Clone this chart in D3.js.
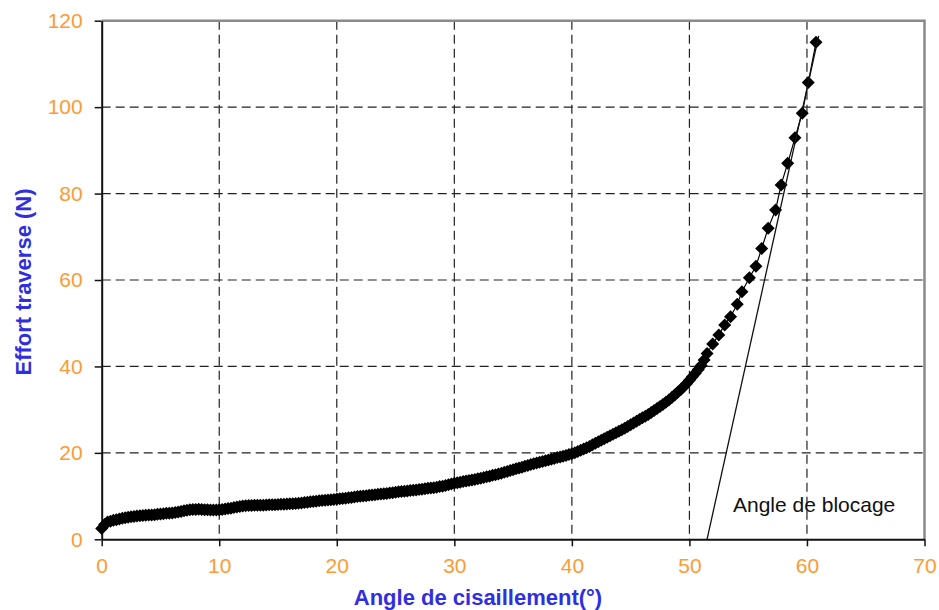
<!DOCTYPE html>
<html><head><meta charset="utf-8">
<script src="https://cdn.jsdelivr.net/npm/d3@7"></script>
<style>body{margin:0;background:#fff}svg{display:block}text{font-family:"Liberation Sans",Arial,sans-serif}</style>
</head><body><svg id="c" width="939" height="610"></svg>
<script>
// Measured curve: shear angle (°) vs transverse force (N)
const angle = [0,0.25,0.5,0.75,1,1.25,1.5,1.75,2,2.25,2.5,2.75,3,3.25,3.5,3.75,4,4.25,4.5,4.75,5,5.25,5.5,5.75,6,6.25,6.5,6.75,7,7.25,7.5,7.75,8,8.25,8.5,8.75,9,9.25,9.5,9.75,10,10.25,10.5,10.75,11,11.25,11.5,11.75,12,12.25,12.5,12.75,13,13.25,13.5,13.75,14,14.25,14.5,14.75,15,15.25,15.5,15.75,16,16.25,16.5,16.75,17,17.25,17.5,17.75,18,18.25,18.5,18.75,19,19.25,19.5,19.75,20,20.25,20.5,20.75,21,21.25,21.5,21.75,22,22.25,22.5,22.75,23,23.25,23.5,23.75,24,24.25,24.5,24.75,25,25.25,25.5,25.75,26,26.25,26.5,26.75,27,27.25,27.5,27.75,28,28.25,28.5,28.75,29,29.25,29.5,29.75,30,30.25,30.5,30.75,31,31.25,31.5,31.75,32,32.25,32.5,32.75,33,33.25,33.5,33.75,34,34.25,34.5,34.75,35,35.25,35.5,35.75,36,36.25,36.5,36.75,37,37.25,37.5,37.75,38,38.25,38.5,38.75,39,39.25,39.5,39.75,40,40.25,40.5,40.75,41,41.25,41.5,41.75,42,42.25,42.5,42.75,43,43.25,43.5,43.75,44,44.25,44.5,44.75,45,45.25,45.5,45.75,46,46.25,46.5,46.75,47,47.25,47.5,47.75,48,48.25,48.5,48.75,49,49.25,49.5,49.75,50,50.25,50.5,50.75,51,51.25,51.5,51.98,52.5,53.0,53.5,54.07,54.47,55.1,55.66,56.15,56.7,57.33,57.8,58.36,58.98,59.6,60.11,60.77];
const force = [2.5,3.4,4.0,4.2,4.4,4.55,4.7,4.85,5.0,5.1,5.2,5.3,5.4,5.45,5.5,5.55,5.6,5.65,5.7,5.8,5.85,5.9,6.0,6.05,6.1,6.2,6.3,6.45,6.6,6.75,6.85,6.9,6.9,6.95,6.9,6.85,6.85,6.8,6.8,6.8,6.85,6.9,7.0,7.1,7.2,7.35,7.5,7.6,7.7,7.75,7.8,7.8,7.85,7.85,7.9,7.9,7.95,8.0,8.0,8.0,8.05,8.1,8.1,8.15,8.2,8.25,8.3,8.35,8.4,8.5,8.6,8.7,8.75,8.8,8.9,9.0,9.05,9.1,9.15,9.2,9.3,9.4,9.45,9.5,9.6,9.7,9.8,9.9,9.95,10.0,10.1,10.2,10.25,10.3,10.4,10.5,10.55,10.6,10.7,10.8,10.9,11.0,11.05,11.1,11.2,11.3,11.35,11.4,11.5,11.6,11.7,11.8,11.85,11.95,12.05,12.2,12.3,12.45,12.6,12.8,12.95,13.1,13.2,13.35,13.5,13.6,13.75,13.85,14.0,14.15,14.3,14.45,14.6,14.8,14.95,15.1,15.3,15.5,15.7,15.9,16.1,16.3,16.5,16.7,16.9,17.1,17.3,17.5,17.65,17.8,18.0,18.2,18.35,18.5,18.7,18.9,19.05,19.2,19.4,19.6,19.8,20.05,20.3,20.6,20.9,21.2,21.5,21.85,22.2,22.55,22.9,23.25,23.6,23.95,24.3,24.65,25.0,25.35,25.7,26.1,26.5,26.9,27.3,27.7,28.1,28.5,28.9,29.35,29.8,30.25,30.7,31.2,31.7,32.25,32.8,33.4,34.0,34.6,35.3,36.0,36.8,37.6,38.4,39.3,40.2,41.5,43.0,45.2,47.3,49.6,51.5,54.4,57.3,60.5,63.2,67.3,72.0,76.2,82.0,87.0,92.9,98.6,105.7,115.0];
// Tangent ("blocking angle") line end points
const tangentX = [51.5, 61.0];
const tangentY = [0, 116.5];
const xTicks = [0,10,20,30,40,50,60,70];
const yTicks = [0,20,40,60,80,100,120];
const xTitle = "Angle de cisaillement(°)";
const yTitle = "Effort traverse (N)";
const note = "Angle de blocage";

const svg = d3.select("#c");
const L = 101.7, R = 924.5, T = 20.7, B = 539.3;
const x = d3.scaleLinear().domain([0,70]).range([L,R]);
const y = d3.scaleLinear().domain([0,120]).range([B,T]);
const orange = "#ff9a33", blue = "#2f2fe0";

// grid
svg.append("g").selectAll("line").data(yTicks.filter(v=>v>0&&v<120)).join("line")
  .attr("x1",L).attr("x2",R).attr("y1",d=>y(d)).attr("y2",d=>y(d))
  .attr("stroke","#222").attr("stroke-width",1.2).attr("stroke-dasharray","9,5");
svg.append("g").selectAll("line").data(xTicks.filter(v=>v>0&&v<70)).join("line")
  .attr("y1",T).attr("y2",B).attr("x1",d=>x(d)).attr("x2",d=>x(d))
  .attr("stroke","#222").attr("stroke-width",1.2).attr("stroke-dasharray","9,5");

// frame (top/right grey)
svg.append("path").attr("d",`M${L},${T}H${R}V${B}`).attr("fill","none").attr("stroke","#8a8a8a").attr("stroke-width",2.5);

// axes
const xa = svg.append("g").attr("transform",`translate(0,${B})`)
  .call(d3.axisBottom(x).tickValues(xTicks).tickSize(7).tickPadding(12).tickSizeOuter(0));
const ya = svg.append("g").attr("transform",`translate(${L},0)`)
  .call(d3.axisLeft(y).tickValues(yTicks).tickSize(7).tickPadding(12).tickSizeOuter(0));
[xa,ya].forEach(a=>{
  a.select(".domain").attr("stroke","#111").attr("stroke-width",2);
  a.selectAll(".tick line").attr("stroke","#111").attr("stroke-width",1.5);
  a.selectAll(".tick text").attr("fill",orange).attr("font-size",21)
    .attr("font-family","'Liberation Sans',Arial,sans-serif");
});
xa.selectAll(".tick text").attr("dy","0.71em");

// data
const pts = angle.map((a,i)=>[a,force[i]]);
svg.append("path").datum(pts).attr("fill","none").attr("stroke","#000").attr("stroke-width",1.2)
  .attr("d",d3.line().x(d=>x(d[0])).y(d=>y(d[1])));
svg.append("g").selectAll("path").data(pts).join("path")
  .attr("transform",d=>`translate(${x(d[0])},${y(d[1])})`)
  .attr("d","M0,-6.5L6.5,0L0,6.5L-6.5,0Z").attr("fill","#000");

// tangent
svg.append("line").attr("x1",x(tangentX[0])).attr("y1",y(tangentY[0]))
  .attr("x2",x(tangentX[1])).attr("y2",y(tangentY[1])).attr("stroke","#111").attr("stroke-width",1.3);

svg.append("text").attr("x",733).attr("y",512).attr("font-size",21).attr("fill","#111").text(note);

// titles
svg.append("text").attr("x",478).attr("y",605).attr("text-anchor","middle").attr("font-weight","bold")
  .attr("font-size",22).attr("fill",blue).text(xTitle);
svg.append("text").attr("transform","translate(31,282) rotate(-90)").attr("text-anchor","middle")
  .attr("font-weight","bold").attr("font-size",22).attr("fill",blue).text(yTitle);
</script></body></html>
